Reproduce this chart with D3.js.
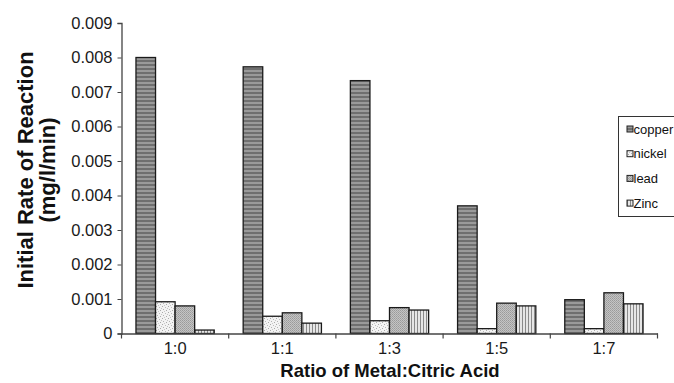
<!DOCTYPE html>
<html>
<head>
<meta charset="utf-8">
<script src="https://cdn.jsdelivr.net/npm/d3@7"></script>
<style>
  body { margin: 0; background: #fff; }
  svg { display: block; font-family: "Liberation Sans", Arial, sans-serif; }
</style>
</head>
<body>
<svg id="chart" width="674" height="383"></svg>
<script>
const categories = ["1:0", "1:1", "1:3", "1:5", "1:7"];
const seriesNames = ["copper", "nickel", "lead", "Zinc"];
const copper = [0.0080, 0.00773, 0.00733, 0.0037, 0.00098];
const nickel = [0.00092, 0.0005, 0.00037, 0.00014, 0.00014];
const lead   = [0.0008, 0.0006, 0.00075, 0.00088, 0.00118];
const zinc   = [0.0001, 0.0003, 0.00068, 0.0008, 0.00086];
const yTicks = [0, 0.001, 0.002, 0.003, 0.004, 0.005, 0.006, 0.007, 0.008, 0.009];
const yTickLabels = ["0", "0.001", "0.002", "0.003", "0.004", "0.005", "0.006", "0.007", "0.008", "0.009"];

const seriesValues = [copper, nickel, lead, zinc];
const patternIds = ["pCopper", "pNickel", "pLead", "pZinc"];

const svg = d3.select("#chart");
const defs = svg.append("defs");

// copper: horizontal stripes on dark grey
let p = defs.append("pattern").attr("id", "pCopper").attr("patternUnits", "userSpaceOnUse")
  .attr("width", 4).attr("height", 4);
p.append("rect").attr("width", 4).attr("height", 4).attr("fill", "#6f6f6f");
p.append("rect").attr("y", 2).attr("width", 4).attr("height", 2).attr("fill", "#9a9a9a");

// nickel: light stipple (irregular dot layout)
p = defs.append("pattern").attr("id", "pNickel").attr("patternUnits", "userSpaceOnUse")
  .attr("width", 6).attr("height", 6);
p.append("rect").attr("width", 6).attr("height", 6).attr("fill", "#f3f3f3");
[[0,0,"#aaa"],[3,1,"#bbb"],[5,2,"#c4c4c4"],[1,3,"#b4b4b4"],[4,4,"#aaa"],[2,5,"#c8c8c8"]].forEach(([px,py,c]) =>
  p.append("rect").attr("x", px).attr("y", py).attr("width", 1).attr("height", 1).attr("fill", c));

// lead: medium grey stipple
p = defs.append("pattern").attr("id", "pLead").attr("patternUnits", "userSpaceOnUse")
  .attr("width", 2).attr("height", 2);
p.append("rect").attr("width", 2).attr("height", 2).attr("fill", "#c4c4c4");
p.append("rect").attr("x", 0).attr("y", 0).attr("width", 1).attr("height", 1).attr("fill", "#9a9a9a");
p.append("rect").attr("x", 1).attr("y", 1).attr("width", 1).attr("height", 1).attr("fill", "#a6a6a6");

// zinc: vertical stripes
p = defs.append("pattern").attr("id", "pZinc").attr("patternUnits", "userSpaceOnUse")
  .attr("width", 3).attr("height", 3);
p.append("rect").attr("width", 3).attr("height", 3).attr("fill", "#e6e6e6");
p.append("rect").attr("x", 0).attr("width", 1).attr("height", 3).attr("fill", "#8a8a8a");

const mLeft = 121.5, mRight = 657.5, mTop = 23, mBottom = 333.5;

const x = d3.scaleBand().domain(categories).range([mLeft, mRight]).paddingInner(0.27).paddingOuter(0.135);
const xs = d3.scaleBand().domain(seriesNames).range([0, x.bandwidth()]).padding(0);
const y = d3.scaleLinear().domain([0, 0.009]).range([mBottom, mTop]);

// bars
const g = svg.append("g");
seriesNames.forEach((s, si) => {
  g.selectAll(".b" + si)
    .data(categories.map((c, i) => ({ c, v: seriesValues[si][i] })))
    .enter().append("rect")
    .attr("x", d => x(d.c) + xs(s))
    .attr("y", d => y(d.v))
    .attr("width", xs.bandwidth())
    .attr("height", d => y(0) - y(d.v))
    .attr("fill", `url(#${patternIds[si]})`)
    .attr("stroke", "#1a1a1a")
    .attr("stroke-width", 1.3);
});

// y axis
const yAxis = d3.axisLeft(y).tickValues(yTicks)
  .tickFormat((d, i) => yTickLabels[i]).tickSize(4).tickPadding(5);
const ya = svg.append("g").attr("transform", `translate(${mLeft},0)`).call(yAxis);
ya.select(".domain").attr("stroke", "#444").attr("stroke-width", 1.3);
ya.selectAll(".tick line").attr("stroke", "#444");
ya.selectAll("text").attr("font-size", 16.5).attr("fill", "#1a1a1a")
  .attr("font-family", "'Liberation Sans', Arial, sans-serif");

// x axis
const xAxis = d3.axisBottom(x).tickSize(0).tickPadding(9);
const xa = svg.append("g").attr("transform", `translate(0,${mBottom})`).call(xAxis);
xa.select(".domain").attr("stroke", "#444").attr("stroke-width", 1.3);
xa.selectAll("text").attr("font-size", 16.5).attr("fill", "#1a1a1a")
  .attr("font-family", "'Liberation Sans', Arial, sans-serif");
// category boundary ticks
const boundaries = categories.map(c => x(c) - x.step() * x.paddingInner() / 2).concat([mRight]);
svg.append("g").selectAll("line").data(boundaries).enter().append("line")
  .attr("x1", d => d).attr("x2", d => d)
  .attr("y1", mBottom).attr("y2", mBottom + 5)
  .attr("stroke", "#444").attr("stroke-width", 1.2);

// axis titles
svg.append("text").attr("x", 390).attr("y", 377)
  .attr("text-anchor", "middle").attr("font-size", 18.5).attr("font-weight", "bold")
  .attr("fill", "#111").text("Ratio of Metal:Citric Acid");

const yt = svg.append("text").attr("transform", "translate(0,170) rotate(-90)")
  .attr("text-anchor", "middle").attr("font-size", 22).attr("font-weight", "bold").attr("fill", "#111");
yt.append("tspan").attr("x", 0).attr("y", 33).text("Initial Rate of Reaction");
yt.append("tspan").attr("x", 0).attr("y", 55).text("(mg/l/min)");

// legend
const lg = svg.append("g");
lg.append("rect").attr("x", 618.5).attr("y", 116.5).attr("width", 70).attr("height", 100)
  .attr("fill", "#fff").attr("stroke", "#333").attr("stroke-width", 1);
seriesNames.forEach((s, i) => {
  const cy = 129 + i * 24.7;
  lg.append("rect").attr("x", 627).attr("y", cy - 3).attr("width", 6).attr("height", 6)
    .attr("fill", `url(#${patternIds[i]})`).attr("stroke", "#222").attr("stroke-width", 1);
  lg.append("text").attr("x", 633.5).attr("y", cy + 4.5).attr("font-size", 13).attr("fill", "#111")
    .text(s);
});
</script>
</body>
</html>
